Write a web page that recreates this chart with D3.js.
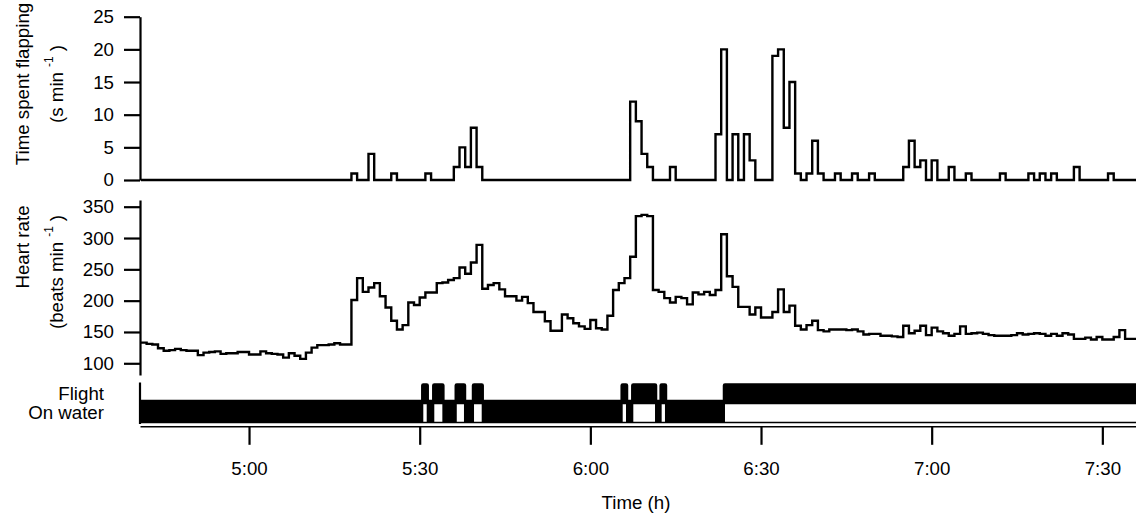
<!DOCTYPE html>
<html>
<head>
<meta charset="utf-8">
<script src="https://cdn.jsdelivr.net/npm/d3@7"></script>
<style>
  html, body { margin: 0; padding: 0; background: #fff; }
  svg { display: block; font-family: "Liberation Sans", Arial, sans-serif; }
</style>
</head>
<body>
<svg id="chart" width="1136" height="518"></svg>
<script>
// ---- Data -------------------------------------------------------------
// One value per minute; the first bin starts at 4:41.
const binStart = "4:41:00";

// Time spent flapping (s per min)
const flapSeconds = [
  0,0,0,0,0,0,0,0,0,0,      // 4:41
  0,0,0,0,0,0,0,0,0,0,      // 4:51
  0,0,0,0,0,0,0,0,0,0,      // 5:01
  0,0,0,0,0,0,0,1,0,0,      // 5:11
  4,0,0,0,1,0,0,0,0,0,      // 5:21
  1,0,0,0,0,2,5,2,8,2,      // 5:31
  0,0,0,0,0,0,0,0,0,0,      // 5:41
  0,0,0,0,0,0,0,0,0,0,      // 5:51
  0,0,0,0,0,0,12,9,4,2,     // 6:01
  0,0,0,2,0,0,0,0,0,0,      // 6:11
  0,7,20,0,7,0,7,3,0,0,     // 6:21
  0,19,20,8,15,1,0,1,6,1,   // 6:31
  0,0,1,0,0,1,0,0,1,0,      // 6:41
  0,0,0,0,2,6,2,3,0,3,      // 6:51
  0,0,2,0,0,1,0,0,0,0,      // 7:01
  0,1,0,0,0,0,1,0,1,0,      // 7:11
  1,0,0,0,2,0,0,0,0,0,      // 7:21
  1,0,0,0,0                 // 7:31
];

// Heart rate (beats per min)
const heartRate = [
  133,131,130,124,120,121,123,121,120,120,  // 4:41
  113,117,118,119,115,116,116,118,118,114,  // 4:51
  114,119,116,115,114,109,116,112,107,117,  // 5:01
  125,129,129,130,132,130,130,201,236,214,  // 5:11
  221,228,207,189,168,154,161,197,193,205,  // 5:21
  213,213,228,229,233,236,253,243,261,289,  // 5:31
  219,225,228,218,207,207,200,206,196,182,  // 5:41
  182,167,152,152,178,172,164,159,155,169,  // 5:51
  156,154,176,217,228,236,270,335,337,335,  // 6:01
  217,214,204,197,206,204,194,213,210,214,  // 6:11
  209,217,306,239,222,190,190,178,189,173,  // 6:21
  173,182,218,182,192,160,154,161,168,153,  // 6:31
  151,154,154,154,153,154,151,146,147,147,  // 6:41
  144,144,143,142,160,148,152,160,145,157,  // 6:51
  151,148,144,147,159,147,148,149,147,145,  // 7:01
  144,144,144,145,148,146,147,148,147,144,  // 7:11
  147,144,148,146,139,139,141,138,142,138,  // 7:21
  138,142,153,139,139                       // 7:31
];

// Flight bouts (start, end); the bird is on the water otherwise
const flightBouts = [
  ["5:30:38", "5:31:14"],
  ["5:32:34", "5:33:59"],
  ["5:36:31", "5:37:47"],
  ["5:39:33", "5:40:54"],
  ["6:05:41", "6:06:16"],
  ["6:07:33", "6:11:22"],
  ["6:12:32", "6:13:07"],
  ["6:23:40", "7:37:00"]
];

const flapTicks = [0, 5, 10, 15, 20, 25];
const hrTicks = [100, 150, 200, 250, 300, 350];
const timeTicks = ["5:00:00", "5:30:00", "6:00:00", "6:30:00", "7:00:00", "7:30:00"];
const timeRange = ["4:40:50", "7:35:55"];

// ---- Setup ------------------------------------------------------------
const parseClock = d3.timeParse("%H:%M:%S");
const fmtClock = d3.timeFormat("%-H:%M");
const FONT = 18.7;

const svg = d3.select("#chart");

const x = d3.scaleTime()
  .domain(timeRange.map(parseClock))
  .range([140, 1136]);

const yFlap = d3.scaleLinear().domain([0, 25]).range([180, 16.7]);
const yHr = d3.scaleLinear().domain([81.3, 360.7]).range([375, 200]);
const yFlight = d3.scaleLinear().domain([0, 1]).range([402, 385.5]);
const yWater = d3.scaleLinear().domain([0, 1]).range([422.5, 401.5]);

svg.append("defs").append("clipPath").attr("id", "plotClip")
  .append("rect").attr("x", 139).attr("y", 0).attr("width", 997).attr("height", 518);

// per-minute bins -> step points, closing the last bin
const t0 = parseClock(binStart);
function binned(values) {
  const pts = values.map((v, i) => ({ t: d3.timeMinute.offset(t0, i), v }));
  pts.push({ t: d3.timeMinute.offset(t0, values.length), v: values[values.length - 1] });
  return pts;
}

// ---- Axes ---------------------------------------------------------------
function styleAxis(g, domainWidth) {
  g.selectAll("path.domain").attr("stroke", "#000").attr("stroke-width", domainWidth);
  g.selectAll(".tick line").attr("stroke", "#000").attr("stroke-width", 2.2);
  g.selectAll(".tick text").attr("fill", "#000").style("font-size", FONT + "px")
    .style("font-family", '"Liberation Sans", Arial, sans-serif');
}

svg.append("g")
  .attr("transform", "translate(140,0)")
  .call(d3.axisLeft(yFlap).tickValues(flapTicks).tickSize(16).tickSizeOuter(0).tickPadding(10))
  .call(g => styleAxis(g, 2.2));

svg.append("g")
  .attr("transform", "translate(140,0)")
  .call(d3.axisLeft(yHr).tickValues(hrTicks).tickSize(16).tickSizeOuter(0).tickPadding(10))
  .call(g => styleAxis(g, 2.2));

svg.append("g")
  .attr("transform", "translate(0,426.3)")
  .call(d3.axisBottom(x).tickValues(timeTicks.map(parseClock)).tickFormat(fmtClock)
    .tickSize(18.5).tickSizeOuter(0).tickPadding(17))
  .call(g => styleAxis(g, 1.6));

// left edge of the state panel
svg.append("line")
  .attr("x1", 140).attr("x2", 140)
  .attr("y1", yFlight(1) - 3).attr("y2", yWater(0) + 1.5)
  .attr("stroke", "#000").attr("stroke-width", 2.2);

// ---- Series ------------------------------------------------------------
const plot = svg.append("g").attr("clip-path", "url(#plotClip)");

const stepLine = y => d3.line().curve(d3.curveStepAfter).x(d => x(d.t)).y(d => y(d.v));

plot.append("path")
  .datum(binned(flapSeconds))
  .attr("fill", "none").attr("stroke", "#000").attr("stroke-width", 2.4)
  .attr("d", stepLine(yFlap));

plot.append("path")
  .datum(binned(heartRate))
  .attr("fill", "none").attr("stroke", "#000").attr("stroke-width", 2.4)
  .attr("d", stepLine(yHr));

// behaviour state as step series (1 = in that state)
const flightSteps = [{ t: x.domain()[0], s: 0 }];
flightBouts.forEach(([a, b]) => {
  flightSteps.push({ t: parseClock(a), s: 1 }, { t: parseClock(b), s: 0 });
});
const waterSteps = flightSteps.map(d => ({ t: d.t, s: 1 - d.s }));

// water zero line
plot.append("line")
  .attr("x1", x.range()[0]).attr("x2", x.range()[1])
  .attr("y1", yWater(0)).attr("y2", yWater(0))
  .attr("stroke", "#000").attr("stroke-width", 1.5);

plot.append("path")
  .datum(waterSteps)
  .attr("fill", "#000").attr("stroke", "none")
  .attr("d", d3.area().curve(d3.curveStepAfter)
    .x(d => x(d.t)).y0(yWater(0)).y1(d => yWater(d.s)));

plot.append("path")
  .datum(flightSteps)
  .attr("fill", "#000").attr("stroke", "#000").attr("stroke-width", 4.5)
  .attr("stroke-linejoin", "round")
  .attr("d", d3.area().curve(d3.curveStepAfter)
    .x(d => x(d.t)).y0(yFlight(0)).y1(d => yFlight(d.s)));

// ---- Labels ------------------------------------------------------------
const labels = svg.append("g").style("font-size", FONT + "px").attr("fill", "#000");

labels.append("text").attr("x", 104).attr("y", 400).attr("text-anchor", "end").text("Flight");
labels.append("text").attr("x", 104).attr("y", 419).attr("text-anchor", "end").text("On water");

labels.append("text")
  .attr("x", 636).attr("y", 509).attr("text-anchor", "middle").text("Time (h)");

function yTitle(cx, cy, parts) {
  const t = labels.append("text")
    .attr("transform", `translate(${cx},${cy}) rotate(-90)`)
    .attr("text-anchor", "middle");
  parts.forEach(p => {
    const ts = t.append("tspan").text(p.text);
    if (p.sup) ts.attr("dy", -10).attr("dx", 5).style("font-size", "12px");
    if (p.after) ts.attr("dy", 10).attr("dx", 5);
  });
}

yTitle(29, 84, [{ text: "Time spent flapping" }]);
yTitle(63, 84, [{ text: "(s min" }, { text: "-1", sup: true }, { text: ")", after: true }]);
yTitle(29, 247, [{ text: "Heart rate" }]);
yTitle(63, 272, [{ text: "(beats min" }, { text: "-1", sup: true }, { text: ")", after: true }]);
</script>
</body>
</html>
